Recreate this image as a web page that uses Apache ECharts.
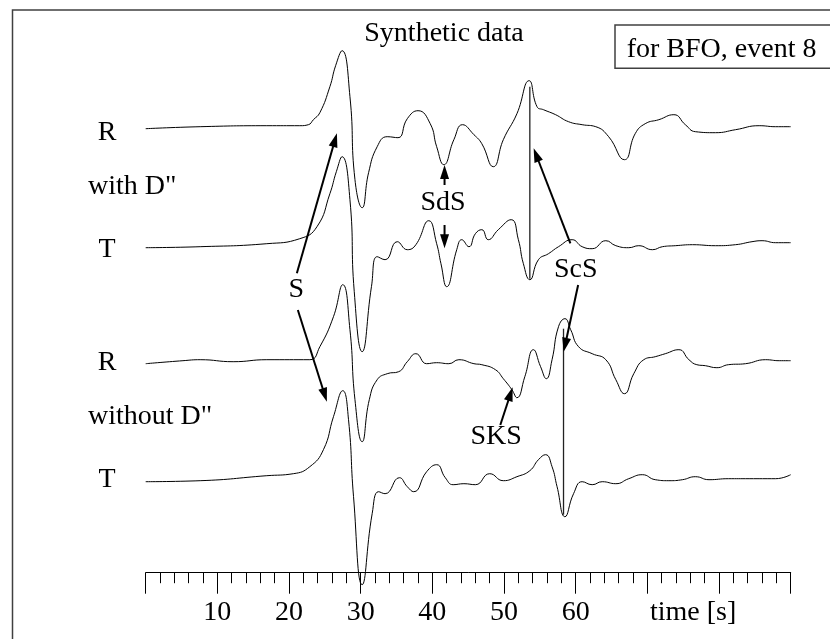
<!DOCTYPE html>
<html><head><meta charset="utf-8">
<script src="https://cdn.jsdelivr.net/npm/echarts@6/dist/echarts.min.js"></script>
<style>html,body{margin:0;padding:0;background:#fff}#c{width:830px;height:639px}</style>
</head><body><div id="c"></div>
<script>
// Trace baselines (data units; 1 unit ~ 1 px vertically)
const traceOffsets = [345, 226, 112, -7];

// R with D''
const t1 = [0, 7.6, 16.9, 21.5, 22.7, 23.4, 24.3, 25.7, 26.5, 27.4, 28.5, 29.2, 30.2, 31.1, 32.3, 33.7, 35.2, 36.5, 38.0, 39.7, 40.6, 41.6, 43.0, 44.2, 45.8, 46.9, 48.5, 49.9, 51.8, 53.5, 54.6, 55.5, 57.2, 59.0, 60.9, 62.8, 64.6, 66.8, 68.3, 69.7, 71.6, 73.7, 75.3, 76.7, 79.5, 82.3, 85.6, 87.9, 90];
const a1 = [-1, 1, 2, 2, 3, 8, 15, 41, 62, 77, 31, -52, -80, -45, -19, -9, -10, 9, 17, 4, -19, -37, -12, 3, -7, -16, -39, -12, 14, 47, 21, 18, 13, 6, 3, 1, -9, -32, -6, 4, 8, 13, 3, -4, -5, -2, 2, 1, 1];

// T with D''
const t2 = [0, 7.6, 16.9, 21.5, 23.9, 25.7, 26.6, 27.4, 28.5, 29.1, 30.2, 31.5, 32.3, 33.4, 35.1, 36.5, 37.7, 39.5, 40.6, 41.2, 42.0, 43.4, 44.1, 45.1, 46.0, 46.9, 47.8, 49.2, 51.0, 52.0, 52.7, 53.6, 54.8, 56.2, 57.6, 59.5, 60.9, 62.3, 64.2, 65.6, 67.4, 68.8, 70.7, 72.1, 73.9, 76.3, 79.5, 82.3, 84.6, 86.0, 87.9, 90];
const a2 = [-1, 0, 3, 8, 20, 53, 75, 90, 47, -45, -105, -40, -10, -13, 5, -3, 2, 26, 3, -17, -40, -3, 7, 0, 13, 17, 7, 17, 27, 7, -17, -33, -13, -7, 0, 7, 0, -2, 6, 1, -1, 1, -3, 0, 1, 2, 1, 2, 5, 6, 4, 4];

// R without D''
const t3 = [0, 5.2, 7.6, 12.2, 16.9, 22.9, 24.3, 26.2, 27.5, 28.5, 29.2, 30.2, 31.2, 32.3, 33.7, 35.3, 36.5, 37.7, 39.2, 40.6, 42.3, 43.7, 45.8, 46.9, 48.8, 49.9, 51.1, 51.8, 52.9, 54.1, 55.1, 55.9, 56.7, 57.6, 58.5, 59.3, 60.4, 62.3, 64.2, 65.6, 66.8, 68.1, 69.5, 71.1, 72.5, 74.4, 75.8, 76.9, 78.1, 79.7, 81.3, 83.7, 86.5, 88.4, 90];
const a3 = [-3, 0, 1, -1, 1, 1, 14, 44, 76, 31, -39, -81, -39, -19, -13, -11, -1, 7, -3, -2, -3, 1, -3, -4, -9, -18, -29, -37, -16, 11, -6, -18, 1, 34, 42, 31, 14, 7, 1, -19, -33, -13, 1, 4, 7, 11, 1, -4, -5, -7, -4, -3, 1, 0, 0];

// T without D''
const t4 = [0, 7.6, 16.9, 20.6, 22.9, 24.8, 26.2, 27.5, 28.3, 29.0, 30.2, 31.6, 32.5, 33.4, 35.4, 36.5, 37.4, 39.2, 40.6, 41.8, 42.9, 44.4, 46.0, 48.0, 49.9, 51.8, 53.6, 54.8, 55.8, 56.7, 57.4, 58.5, 59.7, 60.9, 62.3, 63.7, 65.6, 67.4, 69.3, 71.1, 73.0, 74.9, 76.7, 78.6, 81.3, 84.2, 87.9, 90];
const a4 = [-2, -1, 4, 6, 13, 30, 63, 89, 60, -17, -105, -34, -12, -14, 2, -7, -12, 8, 15, 2, -5, -4, -5, 6, -1, 3, 9, 20, 25, 13, -7, -37, -14, -2, -5, -2, -4, 1, 5, 0, -1, 0, 3, 0, 1, 1, 1, 5];

const tickLabels = [10, 20, 30, 40, 50, 60];

// Phase labels and their anchor positions [time, value]
const phaseNames = ['S', 'SdS', 'ScS', 'SKS'];
const phaseLabelPos = [[21.0, 182.7], [41.5, 270.5], [60.0, 203.3], [48.9, 36]];

// Arrows [t_from, v_from, t_to, v_to]
const arrows = [
  [21.09, 199.4, 26.68, 339.4],
  [21.23, 162.7, 25.28, 71],
  [41.7, 287.7, 41.7, 307.7],
  [41.7, 247.7, 41.7, 224.4],
  [59.26, 229.4, 54.13, 324.4],
  [60.34, 187.7, 58.32, 121],
  [49.48, 47.7, 51.2, 85.4]
];

// ScS marker lines [time, top trace, top amplitude, bottom trace, bottom amplitude]
const markerLines = [[53.6, 0, 41, 1, -32], [58.3, 2, 32, 3, -35]];

const FONT = '"Liberation Serif", "Times New Roman", serif';
const traces = [[t1, a1], [t2, a2], [t3, a3], [t4, a4]];

const chart = echarts.init(document.getElementById('c'), null, {renderer: 'canvas'});

const lineSeries = traces.map(([t, a], k) => ({
  type: 'line',
  data: t.map((x, i) => [x, traceOffsets[k] + a[i]]),
  smooth: 0.5,
  symbol: 'none',
  clip: false,
  silent: true,
  lineStyle: {color: '#000', width: 1}
}));

function textEl(text, x, y, align) {
  return {type: 'text', x: x, y: y, silent: true,
    style: {text: text, fontSize: 28, fontFamily: FONT, fill: '#000', align: align || 'center', verticalAlign: 'middle'}};
}

chart.setOption({
  animation: false,
  backgroundColor: '#fff',
  grid: {left: 145.7, right: 39.3, top: 10, bottom: 66.3, containLabel: false, outerBoundsMode: 'none'},
  xAxis: {
    type: 'value', min: 0, max: 90, interval: 10,
    axisLine: {show: true, onZero: false, lineStyle: {color: '#000', width: 1}},
    axisTick: {show: true, length: 21, lineStyle: {color: '#000', width: 1}},
    minorTick: {show: true, splitNumber: 5, length: 10.5, lineStyle: {color: '#000', width: 1}},
    splitLine: {show: false},
    axisLabel: {margin: 26, fontSize: 28, fontFamily: FONT, color: '#000',
      formatter: v => tickLabels.includes(v) ? String(v) : ''}
  },
  yAxis: {type: 'value', min: -100, max: 462.7, show: false},
  series: lineSeries.concat([
    {
      type: 'custom', silent: true,
      data: markerLines,
      encode: {x: 0, y: 2},
      renderItem: function (params, api) {
        const t = api.value(0);
        const vTop = traceOffsets[api.value(1)] + api.value(2);
        const vBot = traceOffsets[api.value(3)] + api.value(4);
        const p1 = api.coord([t, vTop]), p2 = api.coord([t, vBot]);
        return {type: 'line', shape: {x1: p1[0], y1: p1[1], x2: p2[0], y2: p2[1]},
          style: {stroke: '#222', lineWidth: 1.3}};
      }
    },
    {
      type: 'custom', silent: true,
      data: arrows,
      encode: {x: [0, 2], y: [1, 3]},
      renderItem: function (params, api) {
        const p1 = api.coord([api.value(0), api.value(1)]);
        const p2 = api.coord([api.value(2), api.value(3)]);
        const dx = p2[0] - p1[0], dy = p2[1] - p1[1];
        const len = Math.hypot(dx, dy);
        const ux = dx / len, uy = dy / len;
        const hl = 14, hw = 4.5;
        const bx = p2[0] - ux * hl, by = p2[1] - uy * hl;
        return {type: 'group', children: [
          {type: 'line', shape: {x1: p1[0], y1: p1[1], x2: bx + ux * 2, y2: by + uy * 2},
            style: {stroke: '#000', lineWidth: 2}},
          {type: 'polygon', shape: {points: [[p2[0], p2[1]], [bx - uy * hw, by + ux * hw], [bx + uy * hw, by - ux * hw]]},
            style: {fill: '#000'}}
        ]};
      }
    },
    {
      type: 'custom', silent: true,
      data: phaseLabelPos,
      encode: {x: 0, y: 1},
      renderItem: function (params, api) {
        const p = api.coord([api.value(0), api.value(1)]);
        return {type: 'text', x: p[0], y: p[1],
          style: {text: phaseNames[params.dataIndex], fontSize: 28, fontFamily: FONT, fill: '#000', align: 'center', verticalAlign: 'middle'}};
      }
    }
  ]),
  graphic: [
    {type: 'rect', silent: true, shape: {x: 12.5, y: 10, width: 840, height: 660},
      style: {fill: 'none', stroke: '#404040', lineWidth: 1.5}},
    {type: 'rect', silent: true, shape: {x: 615, y: 25, width: 260, height: 43.3},
      style: {fill: 'none', stroke: '#404040', lineWidth: 1.5}},
    textEl('Synthetic data', 444, 34),
    textEl('for BFO, event 8', 626.7, 50, 'left'),
    textEl('R', 107, 133),
    textEl('with D"', 88, 187, 'left'),
    textEl('T', 107, 250),
    textEl('R', 107, 363),
    textEl('without D"', 88, 417, 'left'),
    textEl('T', 107, 480),
    textEl('time [s]', 650, 612.5, 'left')
  ]
});
</script></body></html>
